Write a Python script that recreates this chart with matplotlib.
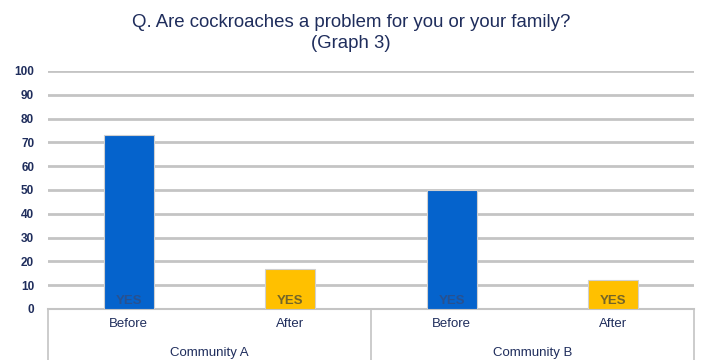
import matplotlib.pyplot as plt
from matplotlib import transforms

plt.rcParams['font.family'] = ['Liberation Sans', 'DejaVu Sans']

periods = ['Before', 'After', 'Before', 'After']
communities = ['Community A', 'Community B']
values = [73, 17, 50, 12]
bar_text = ['YES', 'YES', 'YES', 'YES']
colors = ['#0563CC', '#FFC000', '#0563CC', '#FFC000']
yticks = list(range(0, 101, 10))

navy = '#1F2D5C'
grid = '#C4C4C4'

fig = plt.figure(figsize=(7.02, 3.6), dpi=100)
ax = fig.add_axes([0.0684, 0.1417, 0.9202, 0.6611])

x = range(len(values))
bars = ax.bar(x, values, width=0.31, color=colors, edgecolor='#D0D0D0',
              linewidth=0.8, zorder=3)
for b, t, c in zip(bars, bar_text, colors):
    tc = '#2E4E86' if c == '#0563CC' else '#5B5530'
    ax.text(b.get_x() + b.get_width() / 2, 1.0, t, ha='center', va='bottom',
            fontsize=9.5, color=tc, fontweight='bold', alpha=0.85, zorder=4)

ax.set_xlim(-0.5, len(values) - 0.5)
ax.set_ylim(0, 100)
ax.set_yticks(yticks)
ax.set_xticks([])
ax.tick_params(axis='y', length=0, pad=10, labelsize=8.5, labelcolor=navy)
for lab in ax.get_yticklabels():
    lab.set_fontweight('bold')
ax.yaxis.grid(True, color=grid, linewidth=2, zorder=0)
for s in ax.spines.values():
    s.set_visible(False)

# category table under the bars
trans = transforms.blended_transform_factory(ax.transData, ax.transAxes)
bottom = -0.215
ax.plot([-0.5, 3.5], [0, 0], transform=trans, color=grid, lw=1.5, clip_on=False)
for xv in [-0.5, 1.5, 3.5]:
    ax.plot([xv, xv], [0, bottom], transform=trans, color=grid, lw=1.2,
            clip_on=False)
for i, p in enumerate(periods):
    ax.text(i, -0.062, p, transform=trans, ha='center', va='center',
            fontsize=9.5, color=navy)
for j, c in enumerate(communities):
    ax.text(2 * j + 0.5, -0.185, c, transform=trans, ha='center', va='center',
            fontsize=9.5, color=navy)

fig.text(0.5, 0.908, 'Q. Are cockroaches a problem for you or your family?\n(Graph 3)',
         ha='center', va='center', fontsize=13.4, color=navy, linespacing=1.35)

fig.savefig('out.png', dpi=100)
